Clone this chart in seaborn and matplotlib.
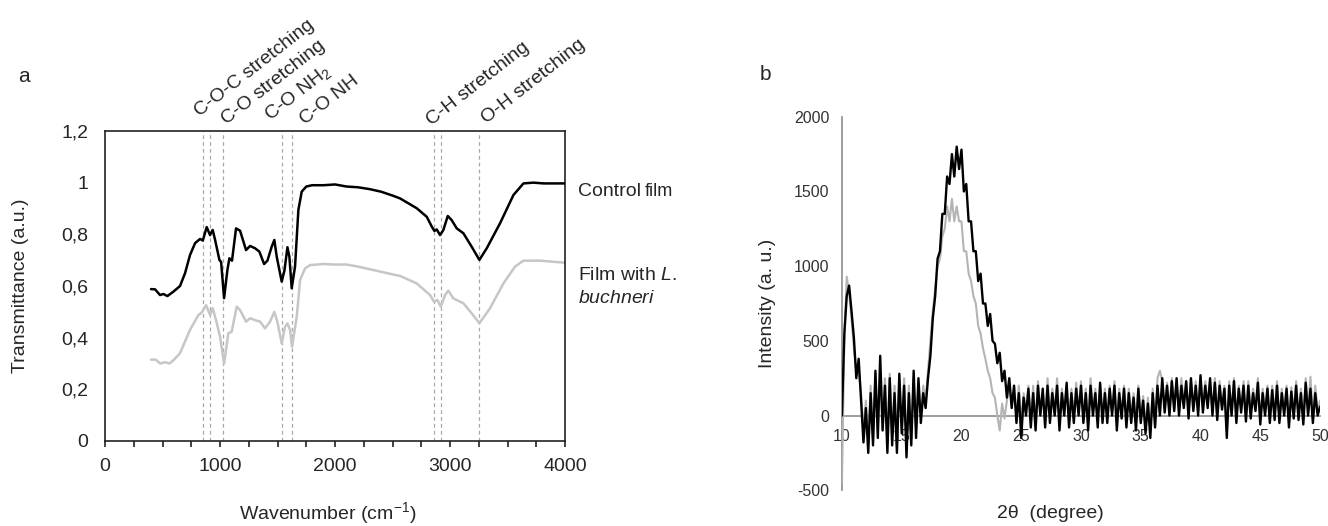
import numpy as np
import pandas as pd
import seaborn as sns
import matplotlib.pyplot as plt
from matplotlib.ticker import MultipleLocator, FuncFormatter

# FTIR spectra (panel a)
wn_control = [400, 435, 478, 507, 542, 594, 652, 696, 739, 783,
              826, 850, 884, 913, 936, 957, 995, 1009, 1035, 1064,
              1081, 1104, 1139, 1174, 1226, 1261, 1304, 1342, 1383, 1412,
              1449, 1472, 1493, 1536, 1560, 1586, 1603, 1623, 1652, 1681,
              1710, 1750, 1800, 1900, 2000, 2100, 2200, 2300, 2400, 2500,
              2565, 2710, 2797, 2841, 2864, 2884, 2913, 2942, 2980, 3014,
              3058, 3116, 3188, 3255, 3319, 3435, 3551, 3638, 3725, 3812,
              4000]
t_control = [0.588, 0.587, 0.565, 0.569, 0.561, 0.578, 0.600, 0.650, 0.720, 0.766,
             0.782, 0.776, 0.828, 0.797, 0.817, 0.778, 0.700, 0.694, 0.553, 0.662,
             0.707, 0.698, 0.823, 0.814, 0.739, 0.755, 0.746, 0.733, 0.685, 0.698,
             0.752, 0.778, 0.713, 0.617, 0.660, 0.750, 0.713, 0.591, 0.675, 0.894,
             0.965, 0.985, 0.990, 0.990, 0.993, 0.985, 0.982, 0.975, 0.965, 0.950,
             0.939, 0.901, 0.868, 0.830, 0.813, 0.819, 0.797, 0.817, 0.871, 0.855,
             0.823, 0.804, 0.752, 0.701, 0.746, 0.843, 0.952, 0.997, 1.000, 0.997,
             0.997]

wn_buchneri = [400, 440, 480, 520, 560, 600, 652, 700, 739,
               812, 840, 878, 913, 936, 965, 1000, 1035, 1072, 1101,
               1145, 1174, 1226, 1261, 1304, 1348, 1391, 1435, 1472, 1498,
               1536, 1565, 1586, 1609, 1626, 1667, 1696, 1739, 1783, 1900,
               2000, 2100, 2200, 2300, 2400, 2500, 2565, 2710, 2826, 2861,
               2890, 2919, 2957, 2985, 3029, 3116, 3188, 3255, 3348, 3464,
               3565, 3638, 3783, 4000]
t_buchneri = [0.315, 0.315, 0.300, 0.305, 0.300, 0.315, 0.340, 0.390, 0.430,
              0.488, 0.497, 0.526, 0.488, 0.514, 0.468, 0.404, 0.300, 0.417, 0.423,
              0.520, 0.507, 0.462, 0.475, 0.468, 0.462, 0.436, 0.462, 0.500, 0.462,
              0.378, 0.442, 0.455, 0.430, 0.365, 0.481, 0.623, 0.668, 0.681, 0.685,
              0.683, 0.683, 0.675, 0.665, 0.655, 0.645, 0.639, 0.610, 0.565, 0.539,
              0.546, 0.520, 0.565, 0.582, 0.552, 0.533, 0.494, 0.456, 0.514, 0.610,
              0.675, 0.698, 0.698, 0.690]

band_lines = [850, 915, 1030, 1536, 1625, 2864, 2922, 3252]
band_labels = ['C-O-C stretching', 'C-O stretching', 'C-O NH$_2$', 'C-O NH',
               'C-H stretching', 'O-H stretching']
band_label_x = [823, 1054, 1431, 1736, 2837, 3315]
band_label_dy = [10, 4.5, 7, 4, 4, 5]

# XRD patterns (panel b), 10-50 deg every 0.2 deg
two_theta = np.linspace(10, 50, 201)
xrd_control = [0, 550, 800, 870, 700, 520, 250, 380, 100, -180,
               50, -250, 150, -200, 300, -150, 400, -100, 200, -250,
               250, -200, 150, -250, 280, -120, 200, -280, 150, -200,
               300, -150, 250, -50, 150, 50, 250, 400, 650, 800,
               1050, 1100, 1350, 1350, 1600, 1550, 1750, 1600, 1800, 1650,
               1780, 1500, 1550, 1300, 1300, 1100, 1100, 900, 950, 750,
               750, 600, 680, 500, 480, 350, 420, 230, 300, 120,
               250, 50, 200, -50, 150, -150, 120, 0, 180, -80,
               150, -100, 200, 0, 180, -80, 200, -50, 150, 0,
               200, -100, 150, 0, 220, -80, 150, -50, 180, 0,
               200, -50, 150, -100, 200, 0, 150, -80, 220, -50,
               150, -50, 180, 0, 200, -100, 150, -20, 180, -80,
               150, -50, 120, -100, 180, -50, 100, -120, 80, -150,
               150, -80, 200, 0, 250, 20, 200, 0, 230, 30,
               250, 0, 200, 50, 230, -20, 250, 30, 200, 0,
               270, 20, 200, 50, 250, 0, 220, -30, 200, 40,
               180, -150, 200, 0, 230, -50, 180, 20, 200, -40,
               200, -20, 150, 30, 220, -60, 150, 0, 180, -50,
               170, -30, 200, -50, 150, 0, 180, -80, 160, -20,
               200, -30, 150, -60, 220, 0, 180, -50, 150, 0,
               60]
xrd_buchneri = [-450, 500, 930, 820, 650, 450, 300, 300, 150, -100,
                100, -200, 200, -150, 280, -100, 330, -50, 250, -200,
                280, -150, 200, -200, 250, -80, 250, -200, 200, -150,
                250, -100, 200, 0, 200, 100, 300, 500, 700, 850,
                1000, 1050, 1200, 1250, 1400, 1300, 1450, 1300, 1400, 1300,
                1300, 1100, 1100, 950, 900, 800, 750, 600, 550, 450,
                380, 300, 250, 150, 120, 0, -100, 80, -20, 100,
                200, 80, 150, 0, 200, -50, 150, 20, 200, -20,
                200, -50, 230, 20, 150, -50, 250, 0, 180, 30,
                250, -50, 180, 20, 200, -50, 180, 0, 220, 30,
                230, 0, 180, -50, 250, 30, 180, -30, 200, 0,
                180, 0, 200, 30, 230, -50, 180, 20, 200, -30,
                180, 0, 150, -50, 200, -20, 130, -80, 120, -100,
                180, -30, 250, 300, 230, 50, 220, 30, 250, 50,
                230, 30, 250, 80, 220, 20, 230, 60, 230, 30,
                250, 50, 230, 80, 230, 30, 250, 0, 230, 60,
                200, -100, 230, 30, 250, -20, 200, 50, 230, 0,
                230, 20, 180, 50, 250, -30, 180, 30, 200, -20,
                200, 0, 230, -20, 180, 30, 200, -50, 190, 10,
                230, 0, 180, -30, 250, 30, 260, -20, 200, 30,
                100]

sns.set_style('white')
plt.rcParams['font.family'] = ['Liberation Sans', 'DejaVu Sans']
plt.rcParams['mathtext.fontset'] = 'custom'
plt.rcParams['mathtext.rm'] = 'Liberation Sans'
plt.rcParams['mathtext.it'] = 'Liberation Sans:italic'
plt.rcParams['axes.unicode_minus'] = False

fig = plt.figure(figsize=(13.28, 5.26), dpi=100)
ax1 = fig.add_axes([0.0791, 0.1616, 0.3464, 0.5894])
ax2 = fig.add_axes([0.634, 0.068, 0.360, 0.710])

# ---- panel a
for x in band_lines:
    ax1.axvline(x, color='#a8a8a8', lw=0.9, ls=(0, (3, 2.5)), zorder=1)

df_c = pd.DataFrame({'wn': wn_control, 't': t_control})
df_b = pd.DataFrame({'wn': wn_buchneri, 't': t_buchneri})
sns.lineplot(data=df_b, x='wn', y='t', ax=ax1, color='#c6c6c6', lw=1.8,
             sort=False, estimator=None, zorder=2)
sns.lineplot(data=df_c, x='wn', y='t', ax=ax1, color='black', lw=1.8,
             sort=False, estimator=None, zorder=3)

ax1.set_xlim(0, 4000)
ax1.set_ylim(0, 1.2)
ax1.xaxis.set_major_locator(MultipleLocator(1000))
ax1.xaxis.set_minor_locator(MultipleLocator(250))
ax1.yaxis.set_major_locator(MultipleLocator(0.2))
ax1.yaxis.set_major_formatter(FuncFormatter(lambda v, p: ('%g' % round(v, 1)).replace('.', ',')))
ax1.tick_params(axis='x', which='both', direction='out', length=4, width=1.2,
                color='#222222', labelsize=14, pad=8, bottom=True)
ax1.tick_params(axis='y', length=0, labelsize=14, pad=12)
for s in ax1.spines.values():
    s.set_color('#222222')
    s.set_linewidth(1.2)

ax1.set_xlabel('Wavenumber (cm$^{-1}$)', fontsize=14)
ax1.xaxis.set_label_coords(0.483, -0.19)
ax1.set_ylabel('Transmittance (a.u.)', fontsize=14)
ax1.yaxis.set_label_coords(-0.165, 0.5)

for lab, x, dy in zip(band_labels, band_label_x, band_label_dy):
    ax1.annotate(lab, xy=(x, 1.2), xytext=(0, dy), textcoords='offset points',
                 rotation=38, rotation_mode='anchor', ha='left', va='baseline',
                 fontsize=14, annotation_clip=False)

t1 = fig.text(578 / 1328, 1 - 196 / 526, 'Control', fontsize=14, va='baseline')
ax1.annotate('film', xy=(1, 0), xycoords=t1, xytext=(3, 3), textcoords='offset points',
             fontsize=13, va='baseline', ha='left')
fig.text(578 / 1328, 1 - 280 / 526, r'Film with $\it{L.}$', fontsize=14, va='baseline')
fig.text(578 / 1328, 1 - 303 / 526, r'$\it{buchneri}$', fontsize=14, va='baseline')
fig.text(24 / 1328, 1 - 77 / 526, 'a', fontsize=15, ha='center', va='center')

# ---- panel b
df_x = pd.DataFrame({'tt': two_theta, 'c': xrd_control, 'b': xrd_buchneri})
sns.lineplot(data=df_x, x='tt', y='b', ax=ax2, color='#b4b4b4', lw=1.5,
             sort=False, estimator=None, zorder=2)
sns.lineplot(data=df_x, x='tt', y='c', ax=ax2, color='black', lw=1.7,
             sort=False, estimator=None, zorder=3)
ax2.set_xlim(10, 50)
ax2.set_ylim(-500, 2000)
ax2.xaxis.set_major_locator(MultipleLocator(5))
ax2.yaxis.set_major_locator(MultipleLocator(500))
ax2.spines['top'].set_visible(False)
ax2.spines['right'].set_visible(False)
ax2.spines['bottom'].set_position(('data', 0))
for s in ('left', 'bottom'):
    ax2.spines[s].set_color('#8c8c8c')
    ax2.spines[s].set_linewidth(1.2)
    ax2.spines[s].set_zorder(1)
ax2.tick_params(axis='both', length=0, labelsize=11.5, labelcolor='#333333')
ax2.tick_params(axis='x', pad=10)
ax2.tick_params(axis='y', pad=9)
ax2.set_xlabel('2θ  (degree)', fontsize=14)
ax2.xaxis.set_label_coords(0.435, -0.04)
ax2.set_ylabel('Intensity (a. u.)', fontsize=14)
ax2.yaxis.set_label_coords(-0.138, 0.5)
fig.text(765 / 1328, 1 - 75 / 526, 'b', fontsize=15, ha='center', va='center')

fig.savefig('out.png', dpi=100)
